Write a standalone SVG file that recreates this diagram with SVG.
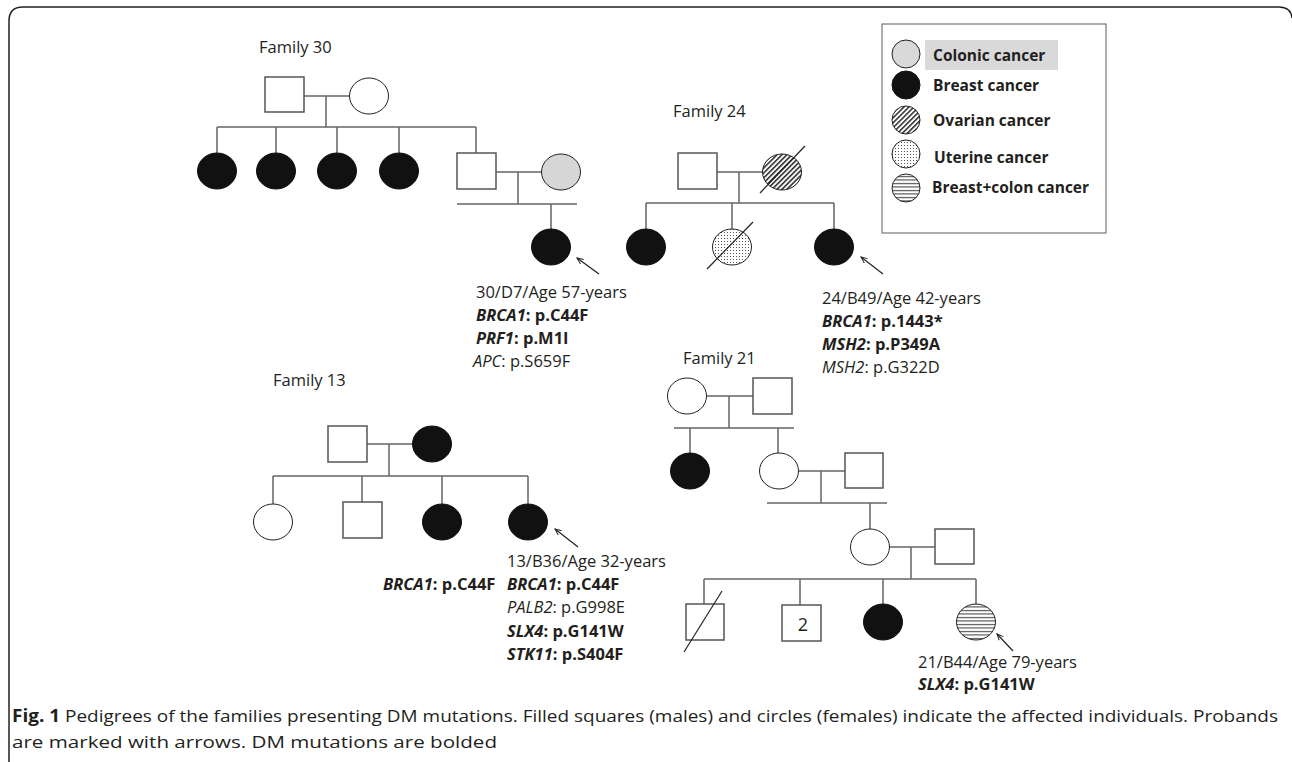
<svg xmlns="http://www.w3.org/2000/svg" width="1292" height="762" viewBox="0 0 1292 762">
<style>
text{font-family:"Open Sans","Liberation Sans",sans-serif;fill:#231f20}
.t{font-size:16.5px}
.b{font-weight:bold}
.i{font-style:italic}
.lg{font-size:15.5px;font-weight:bold}
.sq{fill:#fff;stroke:#555;stroke-width:1.5}
.op{fill:#fff;stroke:#222;stroke-width:1}
.fi{fill:#111;stroke:#111;stroke-width:1}
.cn path{fill:none;stroke:#666;stroke-width:1.5}
.sl{stroke:#222;stroke-width:1.2}
.ar{stroke:#222;stroke-width:1.2;marker-end:url(#ah)}
</style>
<defs>
<marker id="ah" viewBox="0 0 10 10" refX="9" refY="5" markerWidth="7" markerHeight="7" markerUnits="userSpaceOnUse" orient="auto">
<path d="M0,1 L9,5 L0,9" fill="none" stroke="#222" stroke-width="1.4"/>
</marker>
<pattern id="hatch" width="3.5" height="3.5" patternUnits="userSpaceOnUse" patternTransform="rotate(45)">
<rect width="3.5" height="3.5" fill="#fff"/><rect x="0" y="0" width="1.6" height="3.5" fill="#333"/>
</pattern>
<pattern id="dots" width="3" height="3" patternUnits="userSpaceOnUse">
<rect width="3" height="3" fill="#fff"/><rect x="1" y="1" width="1" height="1" fill="#555"/>
</pattern>
<pattern id="hstr" width="4" height="3.5" patternUnits="userSpaceOnUse">
<rect width="4" height="3.5" fill="#fff"/><rect x="0" y="1" width="4" height="1" fill="#333"/>
</pattern>
</defs>
<rect width="1292" height="762" fill="#fff"/>
<path d="M9,762 V21 Q9,7 23,7 H1279 Q1291,7 1292,18" fill="none" stroke="#222" stroke-width="1.5"/>

<!-- Legend -->
<g id="legend">
<rect x="882" y="24" width="224" height="209" fill="#fff" stroke="#777" stroke-width="1.2"/>
<rect x="925" y="40" width="133" height="30" fill="#d9d9d9"/>
<ellipse cx="906" cy="54" rx="14" ry="14" fill="#d9d9d9" stroke="#222" stroke-width="1"/>
<ellipse cx="906" cy="85" rx="14" ry="14" fill="#111" stroke="#111" stroke-width="1"/>
<ellipse cx="906" cy="120" rx="14" ry="14" fill="url(#hatch)" stroke="#222" stroke-width="1"/>
<ellipse cx="906" cy="154" rx="14" ry="14" fill="url(#dots)" stroke="#222" stroke-width="1"/>
<ellipse cx="906" cy="188" rx="14" ry="14" fill="url(#hstr)" stroke="#222" stroke-width="1"/>
<text class="lg" x="933" y="61">Colonic cancer</text>
<text class="lg" x="933" y="91">Breast cancer</text>
<text class="lg" x="933" y="126">Ovarian cancer</text>
<text class="lg" x="934" y="163">Uterine cancer</text>
<text class="lg" x="932" y="193">Breast+colon cancer</text>
</g>

<!-- Connectors -->
<g id="connectors" class="cn">
<path d="M304,96 H350 M326,96 V127 M217,127 H476 M217,127 V153 M276,127 V153 M337,127 V153 M399,127 V153 M476,127 V153"/>
<path d="M496,172 H542 M518,172 V204 M457,204 H577 M551,204 V229"/>
<path d="M717,172 H763 M739,172 V203 M646,203 H834 M646,203 V229 M732,203 V229 M834,203 V229"/>
<path d="M367,444 H413 M389,444 V476 M273,476 H528 M273,476 V504 M362,476 V502 M442,476 V504 M528,476 V504"/>
<path d="M706,396 H753 M729,396 V428 M674,428 H794 M690,428 V453 M778,428 V453"/>
<path d="M798,471 H845 M821,471 V503 M767,503 H887 M870,503 V529"/>
<path d="M889,547 H935 M911,547 V579 M704,579 H976 M704,579 V604 M800,579 V605 M883,579 V604 M976,579 V604"/>
<line class="ar" x1="599" y1="274" x2="577" y2="258"/>
<line class="ar" x1="883" y1="274" x2="861" y2="257"/>
<line class="ar" x1="578" y1="547" x2="555" y2="529"/>
<line class="ar" x1="1013" y1="651" x2="997" y2="634"/>
</g>

<!-- Family 30 -->
<text class="t" x="259" y="53">Family 30</text>
<g id="f30-father"><rect class="sq" x="265" y="77" width="39" height="35"/></g>
<g id="f30-mother"><ellipse class="op" cx="369" cy="96" rx="19.5" ry="18"/></g>
<g id="f30-d1"><ellipse class="fi" cx="217" cy="171" rx="19.5" ry="18"/></g>
<g id="f30-d2"><ellipse class="fi" cx="276" cy="171" rx="19.5" ry="18"/></g>
<g id="f30-d3"><ellipse class="fi" cx="337" cy="171" rx="19.5" ry="18"/></g>
<g id="f30-d4"><ellipse class="fi" cx="399" cy="171" rx="19.5" ry="18"/></g>
<g id="f30-son"><rect class="sq" x="457" y="153" width="39" height="36"/></g>
<g id="f30-wife"><ellipse cx="561" cy="172" rx="19.5" ry="18" fill="#d6d6d6" stroke="#222" stroke-width="1"/></g>
<g id="f30-proband"><ellipse class="fi" cx="551" cy="247" rx="19.5" ry="18"/></g>
<g id="f30-label">
<text class="t" x="476" y="298">30/D7/Age 57-years</text>
<text class="t b" x="476" y="321"><tspan class="i">BRCA1</tspan>: p.C44F</text>
<text class="t b" x="476" y="344"><tspan class="i">PRF1</tspan>: p.M1I</text>
<text class="t" x="473" y="367"><tspan class="i">APC</tspan>: p.S659F</text>
</g>

<!-- Family 24 -->
<text class="t" x="673" y="117">Family 24</text>
<g id="f24-father"><rect class="sq" x="678" y="153" width="39" height="36"/></g>
<g id="f24-mother"><ellipse cx="782" cy="172" rx="19.5" ry="18" fill="url(#hatch)" stroke="#222" stroke-width="1"/><line class="sl" x1="760" y1="193" x2="805" y2="146"/></g>
<g id="f24-c1"><ellipse class="fi" cx="646" cy="247" rx="19.5" ry="18"/></g>
<g id="f24-c2"><ellipse cx="732" cy="247" rx="19.5" ry="18" fill="url(#dots)" stroke="#222" stroke-width="1"/><line class="sl" x1="707" y1="269" x2="753" y2="222"/></g>
<g id="f24-proband"><ellipse class="fi" cx="834" cy="247" rx="19.5" ry="18"/></g>
<g id="f24-label">
<text class="t" x="822" y="304">24/B49/Age 42-years</text>
<text class="t b" x="822" y="327"><tspan class="i">BRCA1</tspan>: p.1443*</text>
<text class="t b" x="822" y="350"><tspan class="i">MSH2</tspan>: p.P349A</text>
<text class="t" x="822" y="373"><tspan class="i">MSH2</tspan>: p.G322D</text>
</g>

<!-- Family 13 -->
<text class="t" x="273" y="386">Family 13</text>
<g id="f13-father"><rect class="sq" x="328" y="426" width="39" height="36"/></g>
<g id="f13-mother"><ellipse class="fi" cx="432" cy="444" rx="19.5" ry="18"/></g>
<g id="f13-c1"><ellipse class="op" cx="273" cy="522" rx="19.5" ry="18"/></g>
<g id="f13-c2"><rect class="sq" x="343" y="502" width="39" height="36"/></g>
<g id="f13-c3"><ellipse class="fi" cx="442" cy="522" rx="19.5" ry="18"/></g>
<g id="f13-proband"><ellipse class="fi" cx="528" cy="522" rx="19.5" ry="18"/></g>
<g id="f13-label">
<text class="t b" x="383" y="590"><tspan class="i">BRCA1</tspan>: p.C44F</text>
<text class="t" x="507" y="567">13/B36/Age 32-years</text>
<text class="t b" x="507" y="590"><tspan class="i">BRCA1</tspan>: p.C44F</text>
<text class="t" x="507" y="613"><tspan class="i">PALB2</tspan>: p.G998E</text>
<text class="t b" x="507" y="637"><tspan class="i">SLX4</tspan>: p.G141W</text>
<text class="t b" x="507" y="660"><tspan class="i">STK11</tspan>: p.S404F</text>
</g>

<!-- Family 21 -->
<text class="t" x="683" y="364">Family 21</text>
<g id="f21-gm"><ellipse class="op" cx="687" cy="396" rx="19.5" ry="18"/></g>
<g id="f21-gf"><rect class="sq" x="753" y="378" width="39" height="36"/></g>
<g id="f21-aunt"><ellipse class="fi" cx="690" cy="471" rx="19.5" ry="18"/></g>
<g id="f21-mother"><ellipse class="op" cx="779" cy="471" rx="19.5" ry="18"/></g>
<g id="f21-father"><rect class="sq" x="845" y="453" width="38" height="35"/></g>
<g id="f21-p-mother"><ellipse class="op" cx="870" cy="547" rx="19.5" ry="18"/></g>
<g id="f21-p-father"><rect class="sq" x="935" y="529" width="39" height="35"/></g>
<g id="f21-c1"><rect class="sq" x="686" y="604" width="38" height="36"/><line class="sl" x1="684" y1="652" x2="722" y2="591"/></g>
<g id="f21-c2"><rect class="sq" x="782" y="605" width="39" height="36"/><text x="803" y="631" text-anchor="middle" style="font-size:18px">2</text></g>
<g id="f21-c3"><ellipse class="fi" cx="883" cy="622" rx="19.5" ry="18"/></g>
<g id="f21-proband"><ellipse cx="976" cy="622" rx="19.5" ry="18" fill="url(#hstr)" stroke="#222" stroke-width="1"/></g>
<g id="f21-label">
<text class="t" x="918" y="668">21/B44/Age 79-years</text>
<text class="t b" x="918" y="690"><tspan class="i">SLX4</tspan>: p.G141W</text>
</g>

<!-- Caption -->
<text x="12" y="722" style="font-size:17px" textLength="1266" lengthAdjust="spacingAndGlyphs"><tspan font-weight="bold">Fig. 1</tspan> Pedigrees of the families presenting DM mutations. Filled squares (males) and circles (females) indicate the affected individuals. Probands</text>
<text x="12" y="748" style="font-size:17px" textLength="485" lengthAdjust="spacingAndGlyphs">are marked with arrows. DM mutations are bolded</text>
</svg>
